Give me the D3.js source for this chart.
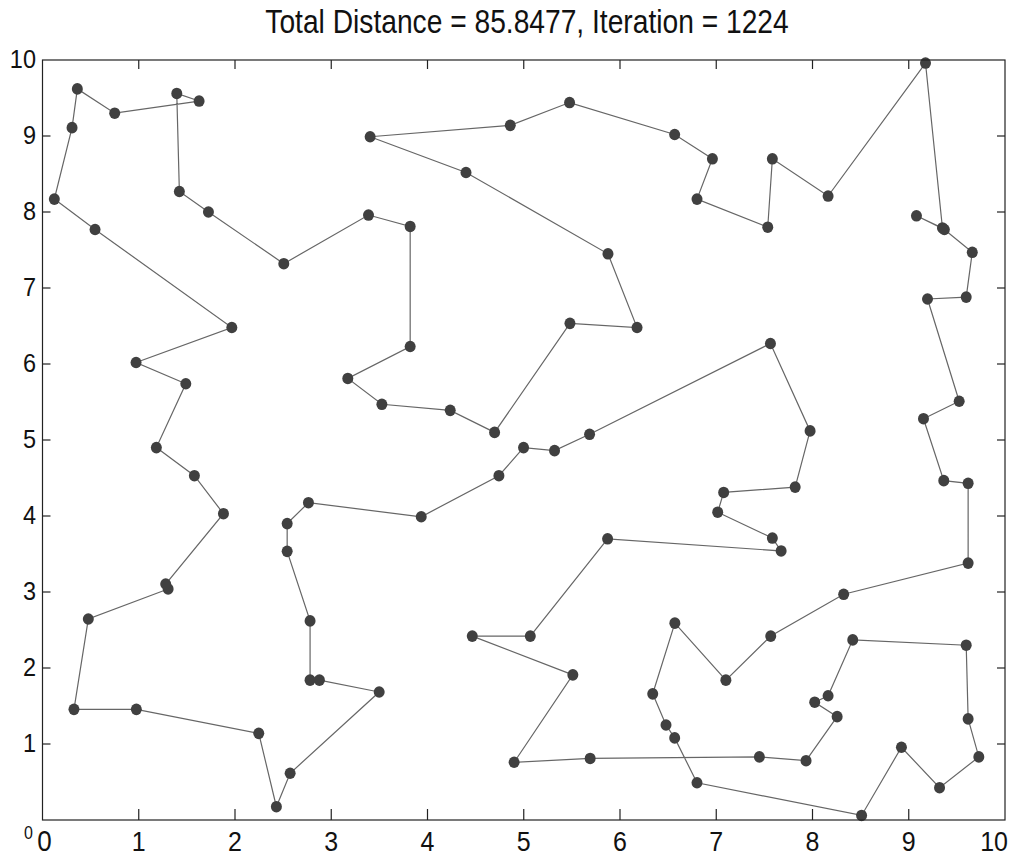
<!DOCTYPE html>
<html>
<head>
<meta charset="utf-8">
<script src="https://cdn.jsdelivr.net/npm/d3@7"></script>
<style>
  body { margin: 0; background: #fff; }
  svg text { font-family: "Liberation Sans", Arial, sans-serif; fill: #111; }
</style>
</head>
<body>
<script>
// Title values
const totalDistance = '85.8477';
const iteration = 1224;

// Tour order, city coordinates
const tourX = [2.507, 3.387, 3.82, 3.82, 3.172, 3.526, 4.236, 4.697, 5.48, 6.177,
  5.875, 4.40, 3.404, 4.86, 5.476, 6.568, 6.96, 6.80, 7.535, 7.583,
  8.162, 9.174, 9.35, 9.08, 9.37, 9.66, 9.597, 9.195, 9.524, 9.153,
  9.364, 9.617, 9.617, 8.324, 7.566, 7.10, 6.57, 6.34, 6.478, 6.568,
  6.80, 8.51, 8.924, 9.32, 9.728, 9.617, 9.597, 8.418, 8.162, 8.023,
  8.256, 7.933, 7.448, 5.69, 4.90, 5.51, 4.465, 5.068, 5.871, 7.674,
  7.583, 7.015, 7.077, 7.82, 7.975, 7.563, 5.684, 5.32, 4.998, 4.742,
  3.935, 2.763, 2.542, 2.542, 2.78, 2.78, 2.877, 3.498, 2.573, 2.43,
  2.247, 0.975, 0.327, 0.476, 1.305, 1.28, 1.88, 1.578, 1.183, 1.489,
  0.972, 1.967, 0.546, 0.123, 0.307, 0.362, 0.75, 1.627, 1.395, 1.422,
  1.724];
const tourY = [7.32, 7.96, 7.81, 6.23, 5.81, 5.47, 5.39, 5.10, 6.535, 6.48,
  7.45, 8.52, 8.99, 9.14, 9.44, 9.02, 8.70, 8.17, 7.80, 8.70,
  8.21, 9.96, 7.79, 7.95, 7.77, 7.47, 6.88, 6.855, 5.51, 5.28,
  4.465, 4.43, 3.38, 2.97, 2.42, 1.84, 2.59, 1.66, 1.25, 1.08,
  0.49, 0.06, 0.957, 0.425, 0.83, 1.33, 2.30, 2.37, 1.635, 1.55,
  1.36, 0.78, 0.83, 0.81, 0.76, 1.91, 2.42, 2.42, 3.70, 3.54,
  3.71, 4.05, 4.31, 4.38, 5.12, 6.27, 5.075, 4.86, 4.90, 4.53,
  3.99, 4.175, 3.90, 3.535, 2.62, 1.84, 1.84, 1.684, 0.615, 0.175,
  1.14, 1.456, 1.456, 2.645, 3.04, 3.105, 4.03, 4.53, 4.90, 5.74,
  6.02, 6.48, 7.77, 8.17, 9.11, 9.62, 9.30, 9.46, 9.56, 8.27,
  8.00];

const xTicks = [1, 2, 3, 4, 5, 6, 7, 8, 9, 10];
const yTicks = [1, 2, 3, 4, 5, 6, 7, 8, 9, 10];

const W = 1012, H = 857;
const plotLeft = 42.5, plotRight = 1005, plotTop = 60, plotBottom = 820;

const svg = d3.select('body').append('svg')
  .attr('width', W)
  .attr('height', H);

const x = d3.scaleLinear().domain([0, 10]).range([plotLeft, plotRight]);
const y = d3.scaleLinear().domain([0, 10]).range([plotBottom, plotTop]);

const cities = tourX.map((v, i) => ({ x: v, y: tourY[i] }));

// closed tour
const line = d3.line()
  .x(d => x(d.x))
  .y(d => y(d.y))
  .curve(d3.curveLinearClosed);

svg.append('path')
  .datum(cities)
  .attr('d', line)
  .attr('fill', 'none')
  .attr('stroke', '#666')
  .attr('stroke-width', 1.2);

svg.selectAll('.city')
  .data(cities)
  .enter()
  .append('ellipse')
  .attr('class', 'city')
  .attr('cx', d => x(d.x))
  .attr('cy', d => y(d.y))
  .attr('rx', 5.5)
  .attr('ry', 5.8)
  .attr('fill', '#404040');

// frame
svg.append('rect')
  .attr('x', plotLeft)
  .attr('y', plotTop)
  .attr('width', plotRight - plotLeft)
  .attr('height', plotBottom - plotTop)
  .attr('fill', 'none')
  .attr('stroke', '#222')
  .attr('stroke-width', 1.2);

// inward ticks on all four sides
const tickG = svg.append('g').attr('stroke', '#222').attr('stroke-width', 1.2);
xTicks.filter(t => t < 10).forEach(t => {
  tickG.append('line').attr('x1', x(t)).attr('x2', x(t)).attr('y1', plotBottom).attr('y2', plotBottom - 11);
  tickG.append('line').attr('x1', x(t)).attr('x2', x(t)).attr('y1', plotTop).attr('y2', plotTop + 9);
});
yTicks.filter(t => t < 10).forEach(t => {
  tickG.append('line').attr('x1', plotLeft).attr('x2', plotLeft + 8).attr('y1', y(t)).attr('y2', y(t));
  tickG.append('line').attr('x1', plotRight).attr('x2', plotRight - 8).attr('y1', y(t)).attr('y2', y(t));
});

// tick labels (slightly tall, like the stretched original)
function label(tx, ty, txt, size, anchor, stretch) {
  svg.append('text')
    .attr('transform', `translate(${tx},${ty}) scale(1,${stretch || 1.1})`)
    .attr('text-anchor', anchor || 'middle')
    .style('font-size', size + 'px')
    .text(txt);
}

xTicks.forEach(t => {
  if (t === 10) label(1008, 851, t, 25, 'end');
  else label(x(t), 851, t, 25);
});
label(x(0) + 2, 851, '0', 26);

yTicks.forEach(t => {
  label(36, y(t) + 8, t, 23.5, 'end');
});
label(33, 839, '0', 16, 'end');

// title
label(527, 33, `Total Distance = ${totalDistance}, Iteration = ${iteration}`, 28.2, 'middle', 1.15);
</script>
</body>
</html>
